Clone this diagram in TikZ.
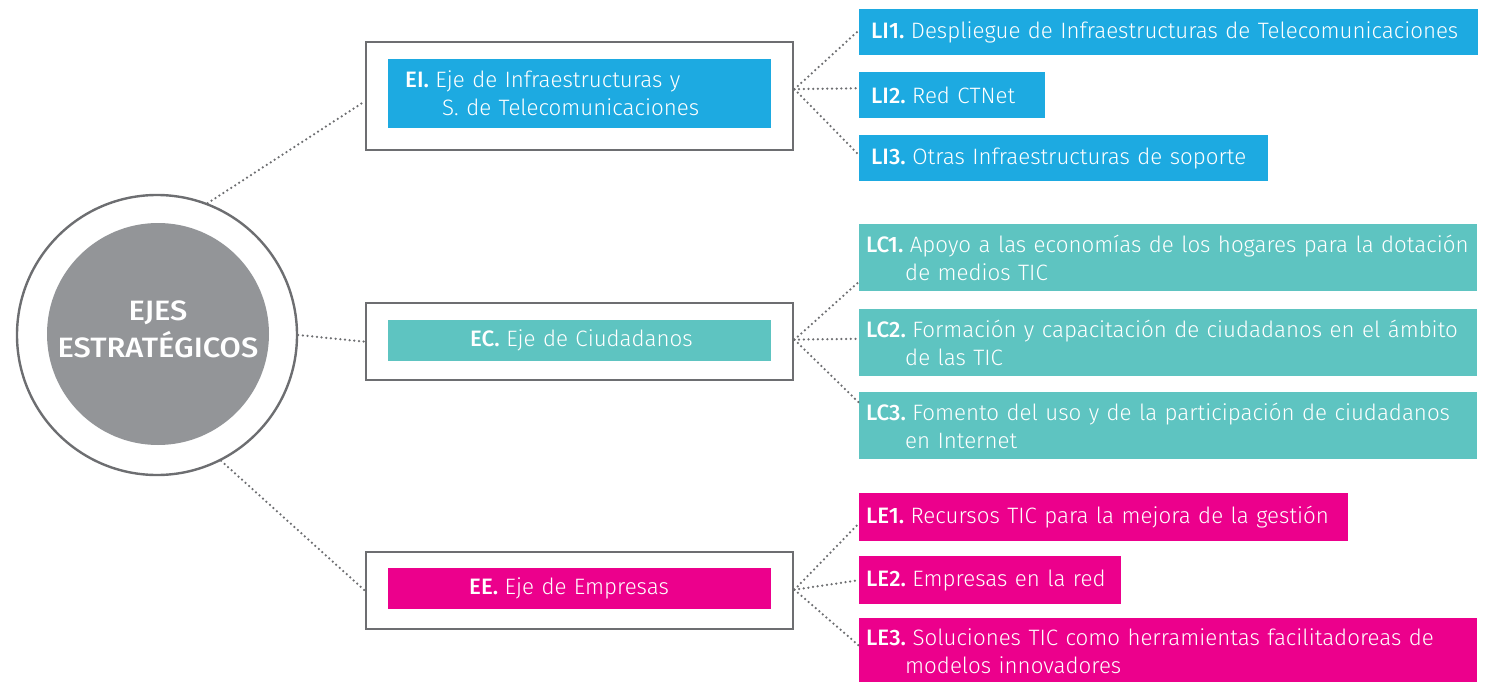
\documentclass[tikz,border=0pt]{standalone}
\usepackage{fontspec}
\setmainfont{Fira Sans Light}[BoldFont=Fira Sans Medium]
\newfontfamily\circfont{Fira Sans Medium}[FakeStretch=1.1]
\definecolor{cblue}{HTML}{1DAAE1}
\definecolor{cteal}{HTML}{5EC4C1}
\definecolor{cmag}{HTML}{EC008C}
\definecolor{cgray}{HTML}{939598}
\definecolor{cframe}{HTML}{6D6E71}
\definecolor{cdot}{HTML}{6D6E71}
\newcommand\mylab[1]{\textbf{#1}\hspace{6.5pt}}
\begin{document}
\begin{tikzpicture}[x=1pt,y=-1pt,
  base/.style={font=\fontsize{22.3}{28}\selectfont, text=white, align=left, inner ysep=0pt, anchor=north west},
  libox/.style={base, fill=cblue, inner xsep=12pt, minimum height=46pt},
  lcbox/.style={base, fill=cteal, inner xsep=7pt, minimum height=67pt},
  lebox/.style={base, fill=cmag, inner xsep=7pt},
  frame/.style={draw=cframe, line width=2.4pt, anchor=north west, minimum width=427pt, inner sep=0pt},
  ebox/.style={base, minimum width=383pt, text width=383pt, inner xsep=0pt},
  conn/.style={draw=cdot, line width=2.5pt, line cap=round, dash pattern=on 0pt off 4.7pt}
]
\useasboundingbox (0,0) rectangle (1490,682);
% central circle
\node[circle, draw=cframe, line width=2.4pt, minimum size=280pt, inner sep=0pt] (C) at (157,335) {};
\node[circle, fill=cgray, minimum size=222pt, inner sep=0pt] (Ci) at (158,334) {};
\node[text=white, align=center, inner sep=0pt,
      font=\fontsize{28}{37}\circfont] (Ct) at (158,329) {EJES\\ESTRATÉGICOS};
% axis frames
\node[frame, minimum height=108pt] (EIf) at (365,41) {};
\node[frame, minimum height=77pt] (ECf) at (365,302) {};
\node[frame, minimum height=77pt] (EEf) at (365,551) {};
% axis boxes
\node[ebox, fill=cblue, minimum height=69pt] (EI) at (388,59)
  {\mbox{\hspace*{17pt}\mylab{EI.}Eje de Infraestructuras y}\\\mbox{\hspace*{54pt}S. de Telecomunicaciones}};
\node[ebox, fill=cteal, minimum height=41pt] (EC) at (388,320)
  {\mbox{\hspace*{82pt}\mylab{EC.}Eje de Ciudadanos}};
\node[ebox, fill=cmag, minimum height=41pt] (EE) at (388,568)
  {\mbox{\hspace*{81pt}\mylab{EE.}Eje de Empresas}};
% lines LI
\node[libox, minimum width=619pt, text width=595pt] (LI1) at (859,9)
  {\mbox{\mylab{LI1.}Despliegue de Infraestructuras de Telecomunicaciones}};
\node[libox, minimum width=186pt, text width=162pt] (LI2) at (859,72)
  {\mbox{\mylab{LI2.}Red CTNet}};
\node[libox, minimum width=409pt, text width=385pt] (LI3) at (859,135)
  {\mbox{\mylab{LI3.}Otras Infraestructuras de soporte}};
% lines LC
\node[lcbox, minimum width=618pt, text width=604pt] (LC1) at (859,224)
  {\mbox{\mylab{LC1.}Apoyo a las economías de los hogares para la dotación}\\\mbox{\hspace*{39pt}de medios TIC}};
\node[lcbox, minimum width=618pt, text width=604pt] (LC2) at (859,309)
  {\mbox{\mylab{LC2.}Formación y capacitación de ciudadanos en el ámbito}\\\mbox{\hspace*{39pt}de las TIC}};
\node[lcbox, minimum width=618pt, text width=604pt] (LC3) at (859,392)
  {\mbox{\mylab{LC3.}Fomento del uso y de la participación de ciudadanos}\\\mbox{\hspace*{39pt}en Internet}};
% lines LE
\node[lebox, minimum width=489pt, text width=475pt, minimum height=48pt] (LE1) at (859,493)
  {\mbox{\mylab{LE1.}Recursos TIC para la mejora de la gestión}};
\node[lebox, minimum width=262pt, text width=248pt, minimum height=48pt] (LE2) at (859,556)
  {\mbox{\mylab{LE2.}Empresas en la red}};
\node[lebox, minimum width=618pt, text width=604pt, minimum height=67pt] (LE3) at (859,618)
  {\mbox{\mylab{LE3.}Soluciones TIC como herramientas facilitadoreas de}\\\mbox{\hspace*{39pt}modelos innovadores}};
% hubs
\coordinate (hI) at ([yshift=7pt]EIf.east);
\coordinate (hC) at ([yshift=2pt]ECf.east);
\coordinate (hE) at ([yshift=1pt]EEf.east);
% connectors from centre
\draw[conn] (C.69) -- ([yshift=-5pt]EIf.west);
\draw[conn] (C.east) -- (ECf.west);
\draw[conn] (C.-63) -- (EEf.west);
% fans
\draw[conn] (hI) -- ([yshift=2pt]LI1.west);
\draw[conn] (hI) -- ([yshift=7pt]LI2.west);
\draw[conn] (hI) -- ([yshift=3pt]LI3.west);
\draw[conn] (hC) -- ([yshift=-24pt]LC1.west);
\draw[conn] (hC) -- ([yshift=4pt]LC2.west);
\draw[conn] (hC) -- ([yshift=23pt]LC3.west);
\draw[conn] (hE) -- ([yshift=-6pt]LE1.west);
\draw[conn] (hE) -- (LE2.west);
\draw[conn] (hE) -- ([yshift=6pt]LE3.west);
\end{tikzpicture}
\end{document}
